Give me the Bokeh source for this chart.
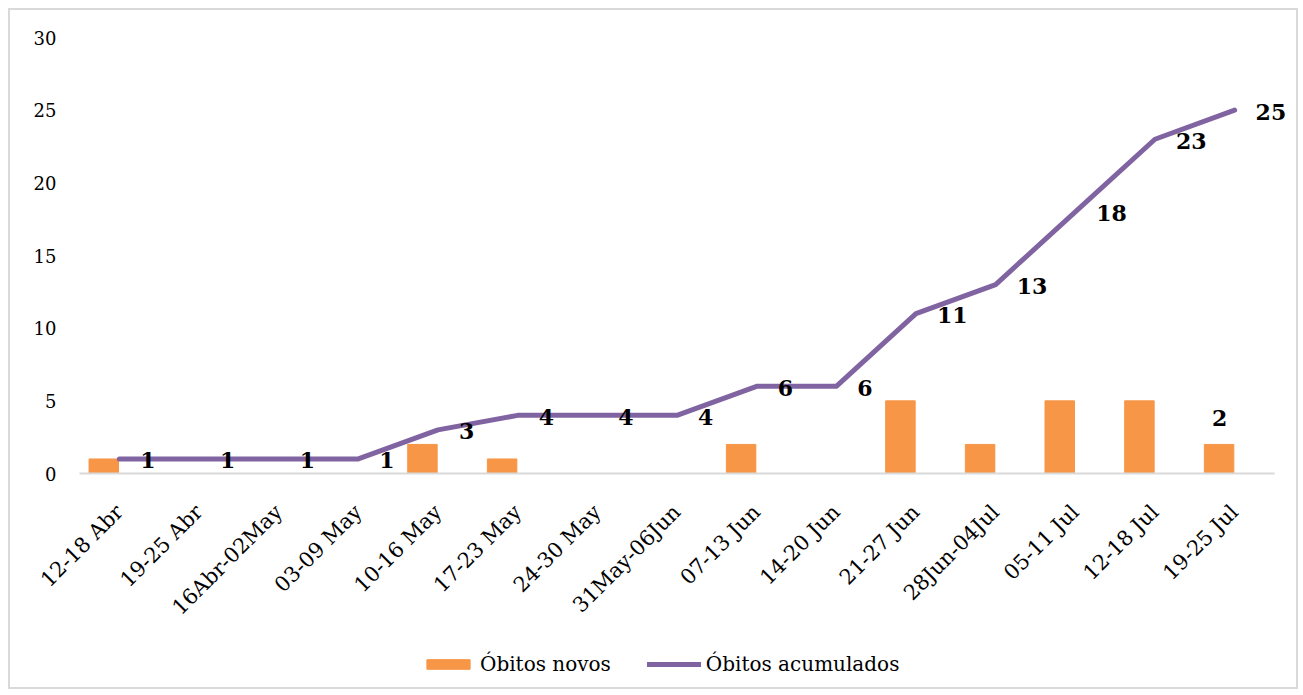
import math
from bokeh.plotting import figure
from bokeh.models import (ColumnDataSource, Range1d, FixedTicker,
                          LabelSet, Legend, LegendItem)
from bokeh.transform import dodge
from bokeh.core.properties import value
from bokeh.embed import file_html
from bokeh.resources import INLINE

categories = ["12-18 Abr", "19-25 Abr", "16Abr-02May", "03-09 May", "10-16 May",
              "17-23 May", "24-30 May", "31May-06Jun", "07-13 Jun", "14-20 Jun",
              "21-27 Jun", "28Jun-04Jul", "05-11 Jul", "12-18 Jul", "19-25 Jul"]
obitos_novos = [1, 0, 0, 0, 2, 1, 0, 0, 2, 0, 5, 2, 5, 5, 2]
obitos_acumulados = [1, 1, 1, 1, 3, 4, 4, 4, 6, 6, 11, 13, 18, 23, 25]
bar_labelled_categories = ["19-25 Jul"]
y_ticks = [0, 5, 10, 15, 20, 25, 30]

ORANGE = "#F79646"
PURPLE = "#8064A2"
FONT = "DejaVu Serif"

pos = list(range(len(categories)))  # category slot positions on the x axis
src = ColumnDataSource(dict(
    x=pos,
    cat=categories,
    novos=obitos_novos,
    acum=obitos_acumulados,
    acum_txt=[str(v) for v in obitos_acumulados],
))
bar_idx = [categories.index(c) for c in bar_labelled_categories]
bar_src = ColumnDataSource(dict(
    x=[pos[i] for i in bar_idx],
    novos=[obitos_novos[i] for i in bar_idx],
    txt=[str(obitos_novos[i]) for i in bar_idx],
))

p = figure(width=1290, height=681, output_backend="svg", toolbar_location=None,
           x_range=Range1d(-1.366, 14.827),
           y_range=Range1d(-15.0, 31.858),
           min_border_left=0, min_border_top=0, min_border_right=0,
           min_border_bottom=0)
p.styles = {"border": "2px solid #d9d9d9", "margin": "8px 0 0 8px"}
p.outline_line_color = None
p.xgrid.visible = False
p.ygrid.visible = False

r_bar = p.vbar(x=dodge("x", -0.195), top="novos", width=0.37,
               source=src, fill_color=ORANGE, line_color=ORANGE)
r_line = p.line(x="x", y="acum", source=src, line_color=PURPLE, line_width=5,
                line_join="round", line_cap="round")

labels = LabelSet(x="x", y="acum", text="acum_txt", source=src,
                  x_offset=21, y_offset=-1.5, text_align="left",
                  text_baseline="middle",
                  text_font=value(FONT), text_font_style="bold",
                  text_font_size="22px", text_color="black")
p.add_layout(labels)

bar_labels = LabelSet(x="x", y="novos", text="txt", source=bar_src,
                      x_offset=-15, y_offset=26, text_align="center",
                      text_baseline="middle", text_font=value(FONT),
                      text_font_style="bold", text_font_size="22px",
                      text_color="black")
p.add_layout(bar_labels)

# axes
p.yaxis.fixed_location = -0.5
p.yaxis.ticker = FixedTicker(ticks=y_ticks)
p.yaxis.axis_line_color = None
p.yaxis.major_tick_line_color = None
p.yaxis.minor_tick_line_color = None
p.yaxis.major_label_standoff = 17
p.yaxis.major_label_text_font = FONT
p.yaxis.major_label_text_font_size = "18px"
p.yaxis.major_label_text_color = "black"

p.xaxis.fixed_location = 0
p.xaxis.bounds = (-0.5, len(categories) - 0.5)
p.xaxis.ticker = FixedTicker(ticks=pos)
p.xaxis.major_label_overrides = {i: c for i, c in zip(pos, categories)}
p.xaxis.axis_line_color = "#d9d9d9"
p.xaxis.axis_line_width = 2
p.xaxis.major_tick_line_color = None
p.xaxis.minor_tick_line_color = None
p.xaxis.major_label_orientation = math.pi / 4
p.xaxis.major_label_standoff = 29
p.xaxis.major_label_text_font = FONT
p.xaxis.major_label_text_font_size = "21px"
p.xaxis.major_label_text_color = "black"

legend = Legend(items=[LegendItem(label="Óbitos novos", renderers=[r_bar]),
                       LegendItem(label="Óbitos acumulados", renderers=[r_line])],
                location=(411, 15), orientation="horizontal",
                glyph_width=54, glyph_height=12, label_standoff=5, spacing=36,
                padding=0, margin=0, border_line_color=None,
                background_fill_alpha=0,
                label_text_font=FONT, label_text_font_size="20px",
                label_text_color="black")
p.add_layout(legend, "center")

open("out.html", "w").write(file_html(p, INLINE))
